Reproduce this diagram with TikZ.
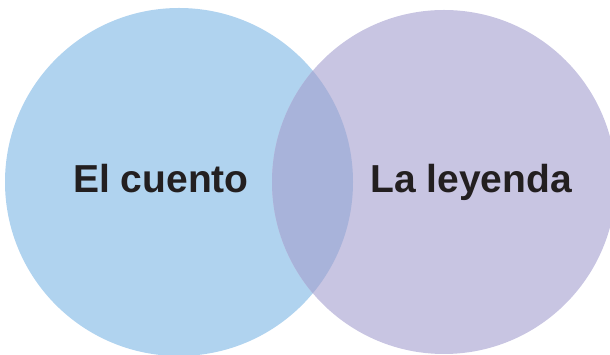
\documentclass[tikz,border=0pt]{standalone}
\usepackage{fontspec}
\setmainfont{Liberation Sans}
\definecolor{cblue}{HTML}{B0D3EF}
\definecolor{cpurple}{HTML}{C8C5E2}
\definecolor{coverlap}{HTML}{A8B3DA}
\definecolor{ctext}{HTML}{231F20}
\begin{document}
\begin{tikzpicture}[x=1pt,y=1pt,
  setcircle/.style={circle, inner sep=0pt, draw=none},
  label/.style={anchor=base, text=ctext, font=\fontsize{39}{44}\selectfont\bfseries, inner sep=0pt}]
\useasboundingbox (0,0) rectangle (610,355);
\clip (0,0) rectangle (610,355);
\node[setcircle, fill=cblue, minimum size=348pt] (L) at (179,173) {};
\node[setcircle, fill=cpurple, minimum size=344pt] (R) at (444,173) {};
\begin{scope}
  \clip (179,173) circle (174);
  \fill[coverlap] (444,173) circle (172);
\end{scope}
\node[label] (tL) at (161,162) {El cuento};
\node[label] (tR) at (471,162) {La leyenda};
\end{tikzpicture}
\end{document}
